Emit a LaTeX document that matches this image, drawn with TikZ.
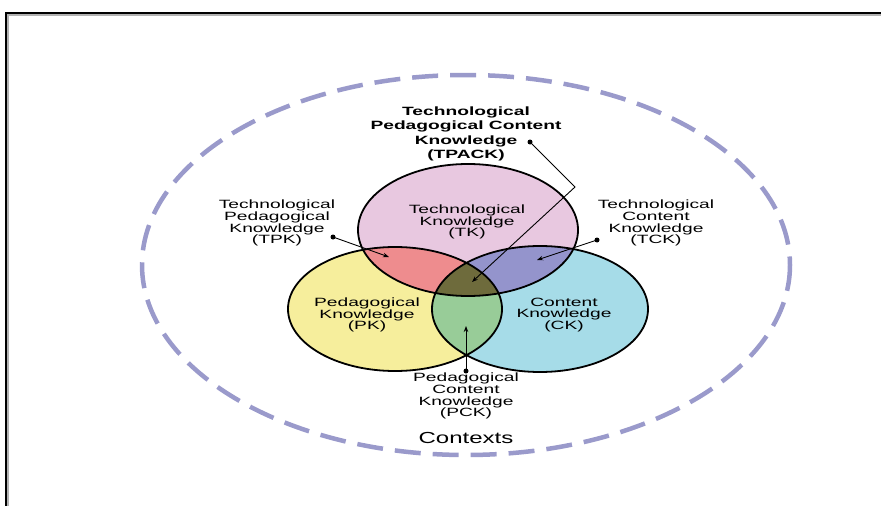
\documentclass[tikz,border=0pt]{standalone}
\usepackage{fontspec}
\setmainfont{Liberation Sans}
\newfontfamily\lblfont{Liberation Sans}[FakeStretch=1.6]
\newfontfamily\ctxfont{Liberation Sans}[FakeStretch=1.5]
\usetikzlibrary{arrows.meta}
\definecolor{tkcol}{HTML}{E8C8E0}
\definecolor{pkcol}{HTML}{F6EE9C}
\definecolor{ckcol}{HTML}{A6DCE8}
\definecolor{tpkcol}{HTML}{EE8C8E}
\definecolor{tckcol}{HTML}{9494CC}
\definecolor{pckcol}{HTML}{98CC98}
\definecolor{tpackcol}{HTML}{6E6B3C}
\definecolor{ctxcol}{HTML}{9A9ACB}
\tikzset{
  lbl/.style={align=center, font=\lblfont\fontsize{12}{11.8}\selectfont, inner sep=0pt},
  boldlbl/.style={align=center, font=\lblfont\bfseries\fontsize{12}{14.3}\selectfont, inner sep=0pt},
  ptr/.style={line width=0.9pt, -{Stealth[length=6pt,width=4.5pt]}},
  dotmark/.style={circle, fill=black, inner sep=0pt, minimum size=5pt},
  outline/.style={line width=1.8pt}
}
\begin{document}
\begin{tikzpicture}[x=1pt,y=-1pt]
\useasboundingbox (0,0) rectangle (881,506);
% frame
\draw[line width=2pt, gray!60] (7.5,506) -- (7.5,14.5) -- (881,14.5);
\draw[line width=1.8pt] (6,506) -- (6,13) -- (881,13);
% contexts ellipse
\draw[ctxcol, line width=4.5pt, dash pattern=on 26pt off 12pt] (466,265) ellipse [x radius=324, y radius=190];
% fills
\fill[tkcol] (468,230) ellipse [x radius=110, y radius=66];
\fill[pkcol] (395,309) ellipse [x radius=107, y radius=62];
\fill[ckcol] (540,309) ellipse [x radius=108, y radius=63];
\begin{scope}
  \clip (468,230) ellipse [x radius=110, y radius=66];
  \fill[tpkcol] (395,309) ellipse [x radius=107, y radius=62];
  \fill[tckcol] (540,309) ellipse [x radius=108, y radius=63];
\end{scope}
\begin{scope}
  \clip (395,309) ellipse [x radius=107, y radius=62];
  \fill[pckcol] (540,309) ellipse [x radius=108, y radius=63];
  \clip (540,309) ellipse [x radius=108, y radius=63];
  \fill[tpackcol] (468,230) ellipse [x radius=110, y radius=66];
\end{scope}
\draw[outline] (468,230) ellipse [x radius=110, y radius=66];
\draw[outline] (395,309) ellipse [x radius=107, y radius=62];
\draw[outline] (540,309) ellipse [x radius=108, y radius=63];
% labels
\node[boldlbl] (tpack) at (466,134) {Technological\\Pedagogical Content\\Knowledge\\(TPACK)};
\node[lbl] (tk) at (467,222) {Technological\\Knowledge\\(TK)};
\node[lbl] (pk) at (367,315) {Pedagogical\\Knowledge\\(PK)};
\node[lbl] (ck) at (564,315) {Content\\Knowledge\\(CK)};
\node[lbl] (tpk) at (277,223) {Technological\\Pedagogical\\Knowledge\\(TPK)};
\node[lbl] (tck) at (656,223) {Technological\\Content\\Knowledge\\(TCK)};
\node[lbl] (pck) at (466,396) {Pedagogical\\Content\\Knowledge\\(PCK)};
\node[font=\ctxfont\fontsize{16}{16}\selectfont, inner sep=0pt] (ctx) at (466,438) {Contexts};
% pointer anchors
\node[dotmark] (dtpack) at (530,142) {};
\coordinate (bend) at (575,187);
\coordinate (ttpack) at (472,282);
\node[dotmark] (dtpk) at (333,237) {};
\coordinate (ttpk) at (389,257);
\node[dotmark] (dtck) at (597,240) {};
\coordinate (ttck) at (537,260);
\node[dotmark] (dpck) at (466,371) {};
\coordinate (tpck) at (466,326);
% pointers
\draw[ptr] (dtpack.center) -- (bend) -- (ttpack);
\draw[ptr] (dtpk.center) -- (ttpk);
\draw[ptr] (dtck.center) -- (ttck);
\draw[ptr] (dpck.center) -- (tpck);
\end{tikzpicture}
\end{document}
